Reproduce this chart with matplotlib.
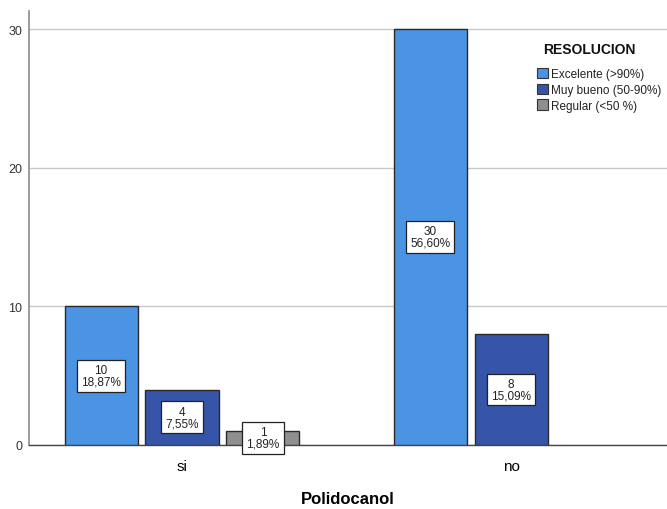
import matplotlib.pyplot as plt
from matplotlib.patches import Patch

plt.rcParams['font.family'] = ['Liberation Sans', 'DejaVu Sans']

GROUPS = ["si", "no"]
SERIES = ["Excelente (>90%)", "Muy bueno (50-90%)", "Regular (<50 %)"]
COUNTS = {
    "Excelente (>90%)": [10, 30],
    "Muy bueno (50-90%)": [4, 8],
    "Regular (<50 %)": [1, 0],
}
COLORS = ["#4b93e3", "#3654a8", "#8f8f8f"]
Y_TICKS = [0, 10, 20, 30]


def pct_label(n, total):
    return f"{n}\n{100 * n / total:.2f}%".replace(".", ",")


def main() -> None:
    total = sum(sum(v) for v in COUNTS.values())

    fig = plt.figure(figsize=(6.67, 5.10), dpi=100)
    ax = fig.add_axes([0.0435, 0.1255, 0.9565, 0.8505])

    width = 0.222
    step = 0.246
    for i, name in enumerate(SERIES):
        offset = (i - 1) * step
        for g, n in enumerate(COUNTS[name]):
            if n == 0:
                continue
            x = g + offset
            ax.bar(x, n, width=width, color=COLORS[i], edgecolor="#2a2a2a",
                   linewidth=1.0, zorder=3)
            ax.text(x, max(n / 2, 0.45), pct_label(n, total), ha="center", va="center",
                    fontsize=8.5, linespacing=0.95, zorder=4, color="#222222",
                    bbox=dict(boxstyle="square,pad=0.35", fc="white", ec="#222222", lw=0.9))

    ax.set_xlim(-0.465, 1.474)
    ax.set_ylim(0, 31.3)
    ax.set_yticks(Y_TICKS)
    ax.tick_params(axis="y", length=0, labelsize=9, colors="#333333", pad=5)
    ax.set_xticks(range(len(GROUPS)))
    ax.set_xticklabels(GROUPS, fontsize=11)
    ax.tick_params(axis="x", length=0, pad=10)
    ax.grid(axis="y", color="#c8c8c8", linewidth=1.0, zorder=0)
    ax.set_axisbelow(True)

    for side in ("top", "right"):
        ax.spines[side].set_visible(False)
    ax.spines["left"].set_color("#8a8a8a")
    ax.spines["left"].set_linewidth(1.2)
    ax.spines["bottom"].set_color("#444444")
    ax.spines["bottom"].set_linewidth(1.0)

    ax.set_xlabel("Polidocanol", fontsize=12, fontweight="bold", labelpad=13)

    # legend title drawn separately so the gap above the entries can be set
    fig.text(589 / 667, 1 - 50 / 510, "RESOLUCION", ha="center", va="center",
             fontsize=10, fontweight="bold", color="#111111")
    handles = [Patch(facecolor=c, edgecolor="#333333", linewidth=0.8) for c in COLORS]
    fig.legend(handles, SERIES, loc="upper left",
               bbox_to_anchor=(537 / 667, 1 - 69 / 510), frameon=False, fontsize=8.5,
               borderpad=0, borderaxespad=0, handlelength=0.95, handleheight=0.95,
               handletextpad=0.25, labelspacing=0.3, labelcolor="#222222")

    fig.savefig("out.png", dpi=100)


if __name__ == "__main__":
    main()
